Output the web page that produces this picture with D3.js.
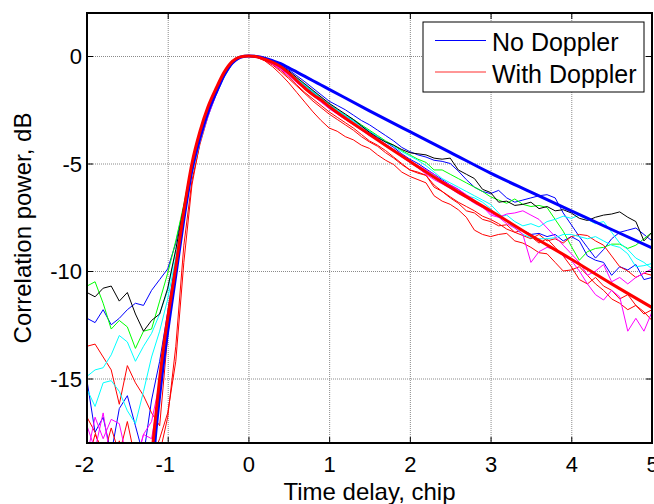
<!DOCTYPE html>
<html>
<head>
<meta charset="utf-8">
<script src="https://cdn.jsdelivr.net/npm/d3@7"></script>
<style>
  body { margin: 0; background: #fff; }
  svg { display: block; font-family: "Liberation Sans", Arial, sans-serif; }
</style>
</head>
<body>
<svg id="chart"></svg>
<script>
// sampling grid of the measured traces, chip
const delay = d3.range(-20, 51).map(i => i / 10);

// measured traces, dB (one value per delay sample)
const traceBlueA = [
  -12.2, -12.4, -11.8, -12.5, -12.2, -11.8, -11.5, -11.6, -10.9, -10.4,
  -9.9, -8.7, -7.0, -5.2, -3.75, -2.55, -1.6, -0.85, -0.3, -0.06,
  0, -0.02, -0.11, -0.25, -0.42, -0.65, -0.92, -1.2, -1.5, -1.8,
  -2.1, -2.3, -2.5, -2.75, -3.0, -3.2, -3.45, -3.7, -3.95, -4.25,
  -4.45, -4.6, -4.7, -4.85, -4.9, -5.0, -5.35, -5.75, -6.1, -6.3,
  -6.4, -6.25, -6.6, -6.8, -6.7, -6.6, -6.5, -6.45, -6.6, -7.3,
  -7.85, -8.4, -8.9, -9.4, -9.0, -8.5, -8.2, -8.1, -8.0, -8.3,
  -8.6];
const traceBlueB = [
  -15.1, -17.5, -16.8, -18.5, -16.4, -15.8, -17.2, -18.6, -16.0, -14.2,
  -11.9, -9.5, -7.3, -5.3, -3.85, -2.65, -1.7, -0.9, -0.33, -0.07,
  0, -0.03, -0.14, -0.3, -0.52, -0.8, -1.1, -1.4, -1.7, -2.0,
  -2.3, -2.55, -2.8, -3.0, -3.25, -3.5, -3.75, -4.0, -4.25, -4.55,
  -4.8, -5.0, -5.25, -5.5, -5.75, -6.0, -6.2, -6.5, -6.75, -7.0,
  -7.2, -7.45, -7.65, -7.9, -8.1, -8.3, -8.25, -8.4, -8.3, -8.6,
  -8.4, -8.6, -9.3, -9.5, -9.6, -10.2, -9.8, -9.95, -9.7, -10.4,
  -10.3];
const traceGreen = [
  -10.7, -10.5, -11.5, -12.7, -12.3, -12.6, -13.6, -12.8, -12.7, -11.4,
  -10.1, -8.6, -6.9, -5.0, -3.6, -2.5, -1.55, -0.78, -0.27, -0.05,
  0, -0.03, -0.13, -0.3, -0.5, -0.75, -1.05, -1.35, -1.65, -1.95,
  -2.25, -2.5, -2.75, -2.95, -3.2, -3.45, -3.7, -3.95, -4.15, -4.4,
  -4.6, -4.8, -4.95, -5.3, -5.3, -5.5, -5.7, -5.9, -6.1, -6.3,
  -6.55, -6.7, -6.85, -6.65, -6.9, -7.0, -6.95, -7.05, -7.6, -8.15,
  -8.85, -9.5, -9.1, -8.95, -8.9, -8.75, -8.75, -8.95, -8.8, -8.5,
  -8.2];
const traceRedA = [
  -13.5, -13.4, -14.0, -14.6, -16.2, -14.4, -15.2, -15.8, -16.6, -17.2,
  -13.0, -10.0, -7.3, -5.0, -3.55, -2.4, -1.55, -0.78, -0.26, -0.04,
  0, -0.04, -0.18, -0.38, -0.65, -0.98, -1.35, -1.7, -2.0, -2.3,
  -2.6, -2.85, -3.1, -3.35, -3.65, -3.95, -4.15, -4.4, -4.7, -5.0,
  -5.3, -5.45, -5.55, -6.0, -6.3, -6.55, -6.8, -7.0, -7.2, -7.45,
  -7.6, -7.8, -8.05, -8.2, -8.35, -8.5, -8.3, -8.6, -8.5, -8.7,
  -8.4, -8.3, -8.35, -8.6, -8.8, -9.3, -9.8, -10.0, -10.3, -10.1,
  -10.2];
const traceRedB = [
  -16.8, -17.5, -18.7, -17.3, -18.5, -17.0, -18.8, -19.0, -19.0, -18.5,
  -16.8, -13.5, -8.8, -5.8, -4.1, -2.8, -1.75, -0.85, -0.3, -0.06,
  0, -0.05, -0.22, -0.5, -0.85, -1.25, -1.7, -2.15, -2.6, -3.0,
  -3.35, -3.5, -3.75, -3.9, -4.15, -4.3, -4.6, -4.85, -5.05, -5.4,
  -5.6, -5.75, -5.9, -6.5, -6.75, -6.9, -7.15, -7.5, -8.1, -8.3,
  -8.4, -8.3, -8.25, -8.6, -8.7, -8.9, -9.15, -9.2, -9.6, -10.0,
  -9.95, -9.8, -10.2, -10.6, -10.9, -11.3, -11.5, -11.8, -11.6, -11.9,
  -12.3];
const traceRedC = [
  -19.0, -17.6, -18.4, -19.0, -17.9, -19.0, -18.6, -19.0, -18.8, -17.8,
  -16.6, -14.2, -9.6, -6.0, -4.0, -2.7, -1.7, -0.82, -0.28, -0.05,
  0, -0.05, -0.2, -0.42, -0.72, -1.05, -1.4, -1.75, -2.1, -2.4,
  -2.7, -2.95, -3.2, -3.45, -3.75, -4.0, -4.2, -4.5, -4.75, -5.05,
  -5.3, -5.4, -5.55, -6.1, -6.3, -6.6, -6.85, -7.2, -7.3, -7.6,
  -7.7, -7.9, -7.85, -8.2, -8.1, -8.4, -8.7, -8.5, -8.9, -9.3,
  -9.8, -10.4, -10.6, -10.3, -10.7, -10.9, -11.3, -11.1, -11.6, -12.0,
  -11.8];
const traceCyanA = [
  -14.9, -14.6, -14.5, -13.9, -13.0, -13.3, -14.2, -13.5, -12.9, -12.0,
  -10.9, -9.1, -7.3, -5.4, -3.9, -2.75, -1.75, -0.95, -0.35, -0.08,
  0, -0.02, -0.12, -0.28, -0.48, -0.74, -1.05, -1.35, -1.65, -1.95,
  -2.25, -2.5, -2.75, -3.0, -3.25, -3.5, -3.75, -4.0, -4.2, -4.45,
  -4.65, -4.85, -5.1, -5.4, -5.7, -5.9, -6.1, -6.3, -6.5, -6.7,
  -6.9, -7.3, -7.7, -8.0, -8.3, -8.45, -8.5, -8.5, -8.45, -8.3,
  -8.3, -8.4, -8.5, -8.4, -8.6, -8.8, -8.9, -9.2, -9.8, -9.75,
  -9.65];
const traceCyanB = [
  -15.5, -16.3, -15.2, -15.1, -15.6, -16.5, -17.1, -15.6, -14.0, -12.8,
  -11.3, -9.4, -7.5, -5.5, -4.0, -2.8, -1.8, -0.98, -0.37, -0.08,
  0, -0.03, -0.15, -0.32, -0.55, -0.82, -1.12, -1.42, -1.72, -2.0,
  -2.3, -2.55, -2.8, -3.05, -3.3, -3.55, -3.85, -4.1, -4.35, -4.6,
  -4.9, -5.1, -5.35, -5.55, -5.8, -6.05, -6.3, -6.5, -6.6, -6.8,
  -7.1, -7.5, -7.4, -7.7, -7.9, -7.8, -7.95, -7.7, -7.6, -7.45,
  -7.55, -7.4, -7.6, -7.8, -7.7, -8.2, -8.7, -9.0, -9.4, -9.6,
  -9.9];
const traceMagentaA = [
  -18.6, -16.8, -17.8, -16.9, -17.1, -18.8, -19.0, -17.6, -17.8, -15.6,
  -12.6, -10.0, -7.6, -5.4, -3.95, -2.8, -1.8, -0.95, -0.36, -0.08,
  0, -0.04, -0.18, -0.38, -0.62, -0.92, -1.25, -1.55, -1.85, -2.15,
  -2.45, -2.7, -2.95, -3.2, -3.45, -3.7, -3.9, -4.15, -4.4, -4.7,
  -4.95, -5.2, -5.5, -5.75, -5.95, -6.15, -6.4, -6.6, -6.85, -7.05,
  -7.3, -7.5, -7.8, -8.0, -8.3, -9.6, -9.1, -8.9, -9.0, -9.3,
  -9.5, -10.0, -10.6, -11.1, -11.35, -10.9, -11.2, -12.8, -12.2, -12.8,
  -11.9];
const traceMagentaB = [
  -17.2, -18.3, -16.6, -18.9, -19.0, -18.2, -19.0, -17.6, -17.0, -15.2,
  -12.3, -9.9, -7.5, -5.3, -3.85, -2.7, -1.75, -0.9, -0.33, -0.07,
  0, -0.03, -0.16, -0.35, -0.58, -0.86, -1.18, -1.5, -1.8, -2.1,
  -2.4, -2.65, -2.9, -3.15, -3.4, -3.6, -3.85, -4.1, -4.35, -4.6,
  -4.85, -5.1, -5.3, -5.5, -5.8, -6.0, -6.2, -6.45, -6.7, -7.0,
  -7.4, -7.5, -7.35, -7.3, -7.2, -7.4, -7.6, -8.0, -8.4, -8.8,
  -9.2, -9.6, -10.2, -10.0, -9.7, -10.5, -10.3, -10.6, -10.3, -10.1,
  -9.9];
const traceBlack = [
  -11.0, -11.2, -10.8, -10.7, -11.4, -11.0, -12.0, -12.8, -12.3, -12.0,
  -10.8, -9.0, -7.0, -5.0, -3.6, -2.45, -1.55, -0.78, -0.26, -0.05,
  0, -0.03, -0.12, -0.27, -0.45, -0.7, -1.0, -1.3, -1.6, -1.9,
  -2.2, -2.45, -2.7, -2.95, -3.25, -3.55, -3.8, -4.0, -4.15, -4.35,
  -4.5, -4.55, -4.6, -4.75, -4.8, -4.75, -5.3, -5.5, -5.7, -6.2,
  -6.35, -6.8, -6.75, -6.95, -6.9, -6.8, -7.1, -7.0, -7.2, -7.15,
  -7.3, -7.55, -7.65, -7.5, -7.4, -7.35, -7.25, -7.5, -7.7, -8.6,
  -8.2];

// model curves (thick lines)
const modelDelay = [-1.25, -1.2, -1.15, -1.1, -1.05, -1.0, -0.95, -0.9, -0.8, -0.7,
  -0.6, -0.5, -0.4, -0.3, -0.2, -0.1, 0, 0.1, 0.2, 0.3, 0.4, 0.5, 0.6, 0.7, 0.8, 0.9,
  1.0, 1.5, 2.0, 2.5, 3.0, 3.5, 4.0, 4.5, 5.0];
const noDoppler = [-22, -19.8, -17.6, -15.8, -14.2, -12.8, -11.5, -10.2, -7.6, -5.3,
  -3.8, -2.6, -1.7, -0.88, -0.32, -0.06, 0, -0.02, -0.1, -0.22, -0.36, -0.55, -0.75, -0.95, -1.15, -1.35,
  -1.55, -2.55, -3.52, -4.48, -5.45, -6.33, -7.2, -8.07, -8.93];
const withDoppler = [-21, -18.7, -16.8, -15.0, -13.5, -12.2, -11.0, -9.8, -7.2, -5.0,
  -3.5, -2.35, -1.5, -0.75, -0.25, -0.04, 0, -0.03, -0.15, -0.3, -0.5, -0.8, -1.15, -1.5, -1.8, -2.05,
  -2.35, -3.65, -4.9, -6.1, -7.2, -8.35, -9.45, -10.6, -11.7];

const xTicks = [-2, -1, 0, 1, 2, 3, 4, 5];
const yTicks = [-15, -10, -5, 0];
const legendLabels = ['No Doppler', 'With Doppler'];

const traces = [
  { color: '#0000ff', values: traceBlueA },
  { color: '#0000ff', values: traceBlueB },
  { color: '#00ff00', values: traceGreen },
  { color: '#ff0000', values: traceRedA },
  { color: '#ff0000', values: traceRedB },
  { color: '#ff0000', values: traceRedC },
  { color: '#00ffff', values: traceCyanA },
  { color: '#00ffff', values: traceCyanB },
  { color: '#ff00ff', values: traceMagentaA },
  { color: '#ff00ff', values: traceMagentaB },
  { color: '#000000', values: traceBlack }
];
const models = [
  { color: '#0000ff', values: noDoppler },
  { color: '#ff0000', values: withDoppler }
];

var svgWidth = 654;
var svgHeight = 504;
var padding = {t: 13, r: 2, b: 61, l: 87};
var chartWidth = svgWidth - padding.l - padding.r;
var chartHeight = svgHeight - padding.t - padding.b;

const svg = d3.select('#chart')
  .attr('width', svgWidth)
  .attr('height', svgHeight);

var chartG = svg.append('g')
  .attr('transform', 'translate(' + [padding.l, padding.t] + ')');

var xScale = d3.scaleLinear().domain([-2, 5]).range([0, chartWidth]);
var yScale = d3.scaleLinear().domain([-18, 2]).range([chartHeight, 0]);

// dotted grid
chartG.append('g')
  .attr('class', 'grid')
  .attr('transform', 'translate(' + [0, chartHeight] + ')')
  .call(d3.axisBottom(xScale).tickValues(xTicks).tickSize(-chartHeight).tickFormat(''));
chartG.append('g')
  .attr('class', 'grid')
  .call(d3.axisLeft(yScale).tickValues(yTicks).tickSize(-chartWidth).tickFormat(''));
chartG.selectAll('.grid .domain').remove();
chartG.selectAll('.grid line')
  .attr('stroke', '#8a8a8a')
  .attr('stroke-width', 1)
  .attr('stroke-dasharray', '1,1');

svg.append('clipPath').attr('id', 'plot-clip')
  .append('rect').attr('width', chartWidth).attr('height', chartHeight);

var plotG = chartG.append('g').attr('clip-path', 'url(#plot-clip)');

var traceLine = d3.line()
  .x((d, i) => xScale(delay[i]))
  .y(d => yScale(d));

plotG.selectAll('.trace')
  .data(traces)
  .enter()
  .append('path')
  .attr('class', 'trace')
  .attr('fill', 'none')
  .attr('stroke', d => d.color)
  .attr('stroke-width', 1)
  .attr('stroke-linejoin', 'round')
  .attr('d', d => traceLine(d.values));

var modelLine = d3.line()
  .x((d, i) => xScale(modelDelay[i]))
  .y(d => yScale(d))
  .curve(d3.curveMonotoneX);

plotG.selectAll('.model')
  .data(models)
  .enter()
  .append('path')
  .attr('class', 'model')
  .attr('fill', 'none')
  .attr('stroke', d => d.color)
  .attr('stroke-width', 3)
  .attr('d', d => modelLine(d.values));

// inward ticks on all four sides
const tickLen = 6;
chartG.append('g').attr('class', 'ticks')
  .attr('transform', 'translate(' + [0, chartHeight] + ')')
  .call(d3.axisBottom(xScale).tickValues(xTicks).tickSize(-tickLen).tickFormat(''));
chartG.append('g').attr('class', 'ticks')
  .call(d3.axisTop(xScale).tickValues(xTicks).tickSize(-tickLen).tickFormat(''));
chartG.append('g').attr('class', 'ticks')
  .call(d3.axisLeft(yScale).tickValues(yTicks).tickSize(-tickLen).tickFormat(''));
chartG.append('g').attr('class', 'ticks')
  .attr('transform', 'translate(' + [chartWidth, 0] + ')')
  .call(d3.axisRight(yScale).tickValues(yTicks).tickSize(-tickLen).tickFormat(''));
chartG.selectAll('.ticks .domain').remove();
chartG.selectAll('.ticks line').attr('stroke', '#000');

// tick labels (the last one runs past the right edge, as in the original)
var xLabels = chartG.append('g')
  .attr('transform', 'translate(' + [0, chartHeight] + ')')
  .call(d3.axisBottom(xScale).tickValues(xTicks).tickSize(0).tickFormat(d => String(d)));
xLabels.select('.domain').remove();
xLabels.selectAll('text')
  .attr('y', 29).attr('dy', null)
  .attr('dx', d => d < 0 ? -3 : 0)
  .attr('fill', '#000')
  .attr('font-size', '22px')
  .attr('font-family', '"Liberation Sans", Arial, sans-serif');

var yLabels = chartG.append('g')
  .call(d3.axisLeft(yScale).tickValues(yTicks).tickSize(0).tickPadding(5).tickFormat(d => String(d)));
yLabels.select('.domain').remove();
yLabels.selectAll('text')
  .attr('dy', '0.36em')
  .attr('fill', '#000')
  .attr('font-size', '22px')
  .attr('font-family', '"Liberation Sans", Arial, sans-serif');

// axes box
chartG.append('rect')
  .attr('width', chartWidth)
  .attr('height', chartHeight)
  .attr('fill', 'none')
  .attr('stroke', '#000')
  .attr('stroke-width', 2);

// axis titles
chartG.append('text')
  .attr('x', chartWidth / 2)
  .attr('y', chartHeight + 57)
  .attr('text-anchor', 'middle')
  .attr('font-size', '24px')
  .attr('fill', '#000')
  .text('Time delay, chip');

chartG.append('text')
  .attr('transform', 'rotate(-90)')
  .attr('x', -chartHeight / 2)
  .attr('y', -56)
  .attr('text-anchor', 'middle')
  .attr('font-size', '24px')
  .attr('fill', '#000')
  .text('Correlation power, dB');

// legend
var legendG = svg.append('g').attr('transform', 'translate(423,22)');
legendG.append('rect')
  .attr('width', 221).attr('height', 70)
  .attr('fill', '#fff').attr('stroke', '#000').attr('stroke-width', 1);
legendG.selectAll('.legend-line')
  .data(models)
  .enter()
  .append('line')
  .attr('class', 'legend-line')
  .attr('x1', 12).attr('x2', 63)
  .attr('y1', (d, i) => 18.5 + i * 31.5)
  .attr('y2', (d, i) => 18.5 + i * 31.5)
  .attr('stroke', d => d.color)
  .attr('stroke-width', (d, i) => i === 0 ? 1 : 1.6)
  .attr('stroke-opacity', (d, i) => i === 0 ? 1 : 0.55);
legendG.selectAll('.legend-text')
  .data(legendLabels)
  .enter()
  .append('text')
  .attr('class', 'legend-text')
  .attr('x', 69)
  .attr('y', (d, i) => 29 + i * 31.5)
  .attr('font-size', '25px')
  .attr('fill', '#000')
  .text(d => d);
</script>
</body>
</html>
